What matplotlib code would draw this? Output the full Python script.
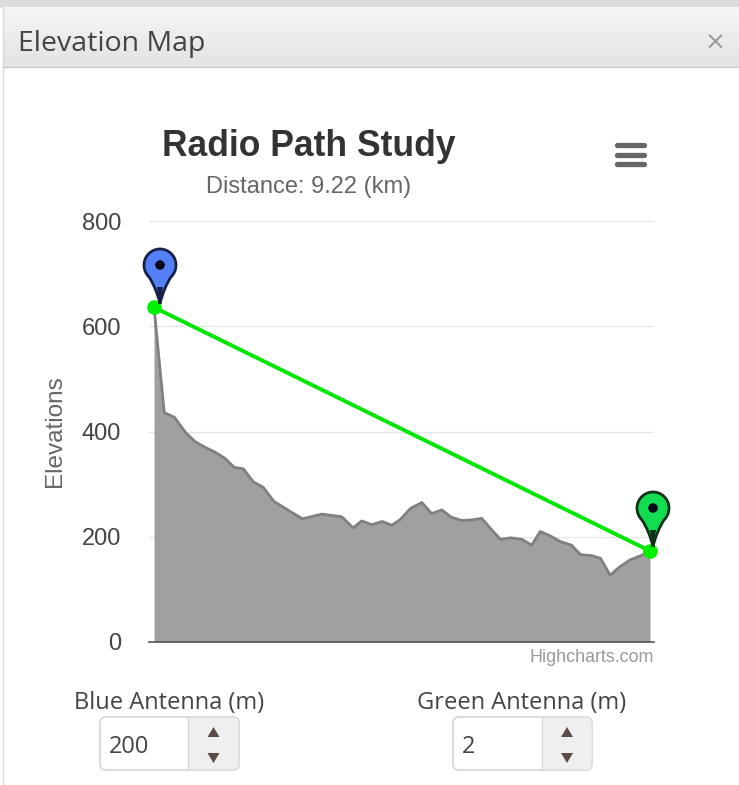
import matplotlib
matplotlib.use("Agg")
import matplotlib.pyplot as plt
import numpy as np
from matplotlib.patches import FancyBboxPatch, PathPatch, Polygon, Rectangle, Circle
from matplotlib.path import Path

plt.rcParams['font.family'] = ['Liberation Sans', 'DejaVu Sans']

distance_km = [0.00, 0.19, 0.38, 0.58, 0.76, 0.95, 1.13, 1.32, 1.49, 1.66,
               1.85, 2.03, 2.23, 2.47, 2.76, 3.12, 3.49, 3.70, 3.86, 4.05,
               4.24, 4.42, 4.57, 4.77, 4.98, 5.16, 5.35, 5.53, 5.72, 5.91,
               6.09, 6.28, 6.44, 6.63, 6.84, 7.02, 7.18, 7.36, 7.55, 7.76,
               7.93, 8.14, 8.30, 8.48, 8.66, 8.85, 9.07, 9.22]
elevation_m = [636, 436, 427, 399, 381, 370, 361, 349, 332, 329,
               304, 294, 267, 252, 234, 243, 238, 217, 230, 223,
               229, 222, 232, 254, 265, 244, 251, 237, 231, 232,
               235, 213, 195, 198, 195, 184, 210, 202, 191, 184,
               166, 164, 159, 127, 143, 156, 165, 173]
path_km = [0.00, 9.22]
path_m = [636, 173]
y_ticks = [0, 200, 400, 600, 800]

W, H = 739, 785


def pin(ax, x, y, face, edge):
    """Draws a map pin whose tip is at x, y (pixels, y going down)."""
    r = 16
    cy = y - 39
    k = 0.55 * r
    verts = [(x, y), (x - 2, y - 10), (x - 7, cy + 18), (x - 11, cy + 12),
             (x - 14, cy + 9), (x - r, cy + 5), (x - r, cy),
             (x - r, cy - k), (x - k, cy - r), (x, cy - r),
             (x + k, cy - r), (x + r, cy - k), (x + r, cy),
             (x + r, cy + 5), (x + 14, cy + 9), (x + 11, cy + 12),
             (x + 7, cy + 18), (x + 2, y - 10), (x, y)]
    codes = [Path.MOVETO] + [Path.CURVE4] * 18
    ax.add_patch(PathPatch(Path(verts, codes), fc=face, ec=edge, lw=2,
                           zorder=5))
    ax.add_patch(Polygon([(x, y), (x - 3, y - 17), (x + 3, y - 17)],
                         fc=edge, ec="none", zorder=6))
    ax.add_patch(Circle((x, cy), 4.8, fc="#080818", ec="none", zorder=6))


def spinner(ax, x0, x1, divider, value):
    """Draws a number input box with its up and down arrows."""
    ax.add_patch(FancyBboxPatch((x0, 717), x1 - x0, 53,
                                boxstyle="round,pad=0,rounding_size=6",
                                fc="white", ec="#d6d6d6", lw=1.2))
    ax.add_patch(FancyBboxPatch((divider, 717.5), x1 - divider - 0.5, 52,
                                boxstyle="round,pad=0,rounding_size=5",
                                fc="#efefef", ec="none"))
    ax.plot([divider, divider], [717, 770], color="#d8d8d8", lw=1)
    mid = (divider + x1) / 2
    ax.add_patch(Polygon([(mid - 6, 737), (mid + 6, 737), (mid, 727)],
                         fc="#5b4c45", ec="none"))
    ax.add_patch(Polygon([(mid - 6, 753), (mid + 6, 753), (mid, 763)],
                         fc="#5b4c45", ec="none"))
    ax.text(x0 + 9, 747, value, fontsize=17, color="#444444",
            family="Open Sans", ha="left", va="center")


def main():
    """Draws the dialog chrome first, then the chart on top of it."""
    fig = plt.figure(figsize=(W / 100, H / 100), dpi=100, facecolor="white")

    page = fig.add_axes([0, 0, 1, 1], zorder=0)
    page.set_xlim(0, W)
    page.set_ylim(H, 0)
    page.axis("off")

    page.add_patch(Rectangle((0, 0), W, 8, fc="#dcdcdc", ec="none"))
    gradient = np.linspace(0, 1, 60).reshape(-1, 1)
    cmap = matplotlib.colors.LinearSegmentedColormap.from_list(
        "header", ["#f6f6f6", "#e3e3e3"])
    page.imshow(gradient, extent=(3, W, 67, 7), cmap=cmap, aspect="auto",
                zorder=1)
    page.set_xlim(0, W)
    page.set_ylim(H, 0)
    page.plot([3, W], [67, 67], color="#c9c9c9", lw=1, zorder=2)
    page.plot([3, 3], [8, H], color="#d9d9d9", lw=1, zorder=2)
    page.text(18, 44, "Elevation Map", fontsize=20.5, color="#444444",
              family="Open Sans", ha="left", va="center", zorder=3)
    page.text(715, 43, "×", fontsize=18, color="#999999", family="DejaVu Sans",
              ha="center", va="center", zorder=3)

    for y in [145, 155, 163.5]:
        page.plot([617, 644], [y, y], color="#666666", lw=3.8,
                  solid_capstyle="round", zorder=3)

    page.text(169, 703, "Blue Antenna (m)", fontsize=17, color="#444444",
              family="Open Sans", ha="center", va="center")
    page.text(522, 703, "Green Antenna (m)", fontsize=17, color="#444444",
              family="Open Sans", ha="center", va="center")
    spinner(page, 100, 239, 188, "200")
    spinner(page, 453, 592, 542, "2")

    page.text(308.5, 146, "Radio Path Study", fontsize=25.6, fontweight="bold",
              color="#333333", ha="center", va="center", zorder=3)
    page.text(309, 187, "Distance: 9.22 (km)", fontsize=17, color="#666666",
              ha="center", va="center", zorder=3)
    page.text(654, 657, "Highcharts.com", fontsize=12.9, color="#999999",
              ha="right", va="center", zorder=3)
    page.text(55, 431, "Elevations", fontsize=17.5, color="#666666",
              rotation=90, ha="center", va="center", zorder=3)

    left, right, top, bottom = 149, 654, 221, 642
    ax = fig.add_axes([left / W, 1 - bottom / H,
                       (right - left) / W, (bottom - top) / H], zorder=1)
    ax.patch.set_alpha(0)
    ax.set_xlim(-0.093, 9.294)
    ax.set_ylim(0, 800)
    ax.fill_between(distance_km, elevation_m, 0, color="#a0a0a0", lw=0,
                    zorder=2)
    ax.plot(distance_km, elevation_m, color="#808080", lw=2, zorder=3)
    ax.plot(path_km, path_m, color="#00e600", lw=2.8, zorder=4,
            marker="o", markersize=10.5, markerfacecolor="#00f000",
            markeredgecolor="none", clip_on=False)

    ax.set_yticks(y_ticks)
    ax.set_xticks([])
    ax.grid(axis="y", color="#e6e6e6", lw=1)
    ax.set_axisbelow(True)
    ax.tick_params(axis="y", length=0, pad=20, labelsize=17,
                   labelcolor="#444444")
    for side in ["top", "right", "left"]:
        ax.spines[side].set_visible(False)
    ax.spines["bottom"].set_color("#555555")
    ax.spines["bottom"].set_linewidth(1.2)

    pins = fig.add_axes([0, 0, 1, 1], zorder=2)
    pins.set_xlim(0, W)
    pins.set_ylim(H, 0)
    pins.axis("off")
    pins.patch.set_alpha(0)
    pin(pins, 160, 304, "#5580f5", "#15204a")
    pin(pins, 653, 547, "#10dd50", "#103018")

    fig.savefig("out.png", dpi=100)


if __name__ == '__main__':
    main()
